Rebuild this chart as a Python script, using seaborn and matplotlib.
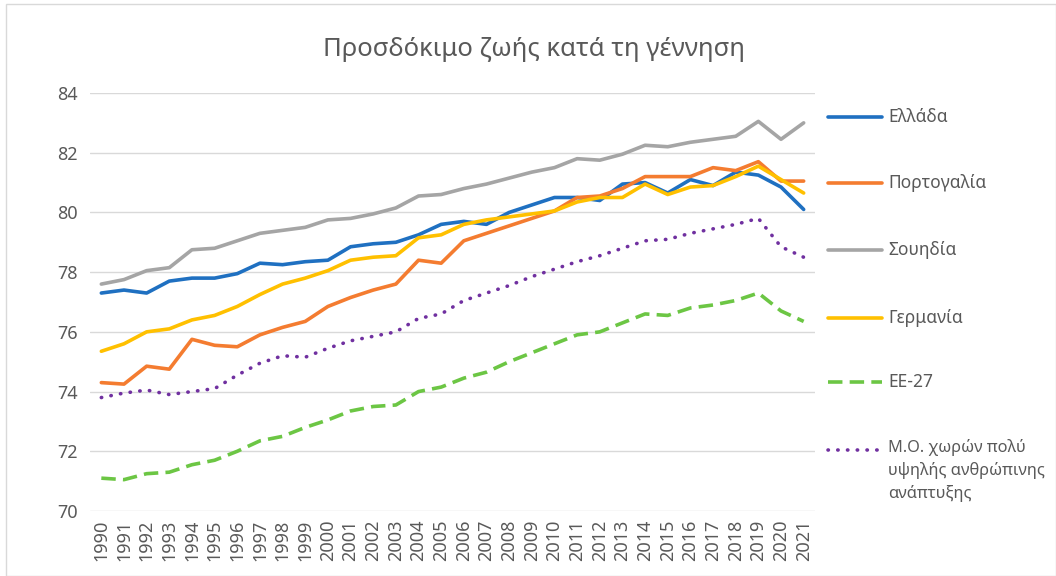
import numpy as np
import seaborn as sns
import matplotlib.pyplot as plt
from matplotlib.lines import Line2D
from matplotlib.patches import Rectangle

# **Data**
years = list(range(1990, 2022))

greece = [77.3, 77.4, 77.3, 77.7, 77.8, 77.8, 77.95, 78.3, 78.25, 78.35, 78.4,
          78.85, 78.95, 79.0, 79.25, 79.6, 79.7, 79.6, 80.0, 80.25, 80.5,
          80.5, 80.4, 80.95, 81.0, 80.65, 81.1, 80.9, 81.35, 81.25, 80.85, 80.1]
portugal = [74.3, 74.25, 74.85, 74.75, 75.75, 75.55, 75.5, 75.9, 76.15, 76.35, 76.85,
            77.15, 77.4, 77.6, 78.4, 78.3, 79.05, 79.3, 79.55, 79.8, 80.05,
            80.5, 80.55, 80.8, 81.2, 81.2, 81.2, 81.5, 81.4, 81.7, 81.05, 81.05]
sweden = [77.6, 77.75, 78.05, 78.15, 78.75, 78.8, 79.05, 79.3, 79.4, 79.5, 79.75,
          79.8, 79.95, 80.15, 80.55, 80.6, 80.8, 80.95, 81.15, 81.35, 81.5,
          81.8, 81.75, 81.95, 82.25, 82.2, 82.35, 82.45, 82.55, 83.05, 82.45, 83.0]
germany = [75.35, 75.6, 76.0, 76.1, 76.4, 76.55, 76.85, 77.25, 77.6, 77.8, 78.05,
           78.4, 78.5, 78.55, 79.15, 79.25, 79.6, 79.75, 79.85, 79.95, 80.05,
           80.35, 80.5, 80.5, 80.95, 80.6, 80.85, 80.9, 81.2, 81.55, 81.1, 80.65]
eu27 = [71.1, 71.05, 71.25, 71.3, 71.55, 71.7, 72.0, 72.35, 72.5, 72.8, 73.05,
        73.35, 73.5, 73.55, 74.0, 74.15, 74.45, 74.65, 75.0, 75.3, 75.6,
        75.9, 76.0, 76.3, 76.6, 76.55, 76.8, 76.9, 77.05, 77.3, 76.7, 76.35]
vhhd = [73.8, 73.95, 74.05, 73.9, 74.0, 74.1, 74.55, 74.95, 75.2, 75.15, 75.45,
        75.7, 75.85, 76.0, 76.45, 76.6, 77.05, 77.3, 77.55, 77.85, 78.1,
        78.35, 78.55, 78.8, 79.05, 79.1, 79.3, 79.45, 79.6, 79.8, 78.85, 78.5]

labels = ["Ελλάδα", "Πορτογαλία", "Σουηδία", "Γερμανία", "ΕΕ-27",
          "Μ.Ο. χωρών πολύ\nυψηλής ανθρώπινης\nανάπτυξης"]
series = [greece, portugal, sweden, germany, eu27, vhhd]

# **Styles**
colors = ["#1F70C1", "#F47C30", "#A5A5A5", "#FFC000", "#6CC644", "#7030A0"]
dashes = [None, None, None, None, (4, 2), (0.1, 2.6)]

sns.set_style("white")
plt.rcParams['font.family'] = ['Noto Sans', 'DejaVu Sans']
text_col = "#595959"

fig = plt.figure(figsize=(10.56, 5.76), dpi=100)
ax = fig.add_axes([90 / 1056, 1 - 511 / 576, 725 / 1056, 418 / 576])

x_idx = np.arange(len(years))
for vals, col, ds in zip(series, colors, dashes):
    sns.lineplot(x=x_idx, y=vals, ax=ax, color=col, linewidth=2.6, legend=False)
    line = ax.get_lines()[-1]
    if ds is not None:
        line.set_dashes(ds)
        if ds[0] < 1:
            line.set_dash_capstyle("round")

ax.set_xlim(-0.5, len(years) - 0.5)
ax.set_ylim(70, 84)
ax.set_yticks(np.arange(70, 85, 2))
ax.set_xticks(x_idx)
ax.set_xticklabels([str(y) for y in years], rotation=90)
ax.tick_params(axis='x', labelsize=13, colors=text_col, length=0, pad=6)
ax.tick_params(axis='y', labelsize=13, colors=text_col, length=0, pad=9)
ax.grid(axis='y', color="#D9D9D9", linewidth=1)
ax.set_axisbelow(True)
for s in ax.spines.values():
    s.set_visible(False)
ax.set_xlabel("")
ax.set_ylabel("")

fig.text(534 / 1056, 1 - 50 / 576, "Προσδόκιμο ζωής κατά τη γέννηση",
         ha="center", va="center", fontsize=18.5, color=text_col)

# **Legend (Excel-style, right side)**
leg_y = [117, 183, 250, 318, 382, 450]
for y, lab, col, ds in zip(leg_y, labels, colors, dashes):
    yy = 1 - y / 576
    l = Line2D([828 / 1056, 882 / 1056], [yy, yy], transform=fig.transFigure,
               color=col, linewidth=2.6)
    if ds is not None:
        l.set_dashes(ds)
        if ds[0] < 1:
            l.set_dash_capstyle("round")
    fig.add_artist(l)
    if "\n" in lab:
        fig.text(888 / 1056, yy + 11 / 576, lab, ha="left", va="top",
                 fontsize=11.8, color=text_col, linespacing=1.45)
    else:
        fig.text(888 / 1056, yy, lab, ha="left", va="center",
                 fontsize=12.5, color=text_col)

fig.add_artist(Rectangle((6 / 1056, 0), 1 - 6 / 1056, 1 - 4 / 576,
                         transform=fig.transFigure, fill=False,
                         edgecolor="#D9D9D9", linewidth=1))

fig.savefig("out.png", dpi=100)
